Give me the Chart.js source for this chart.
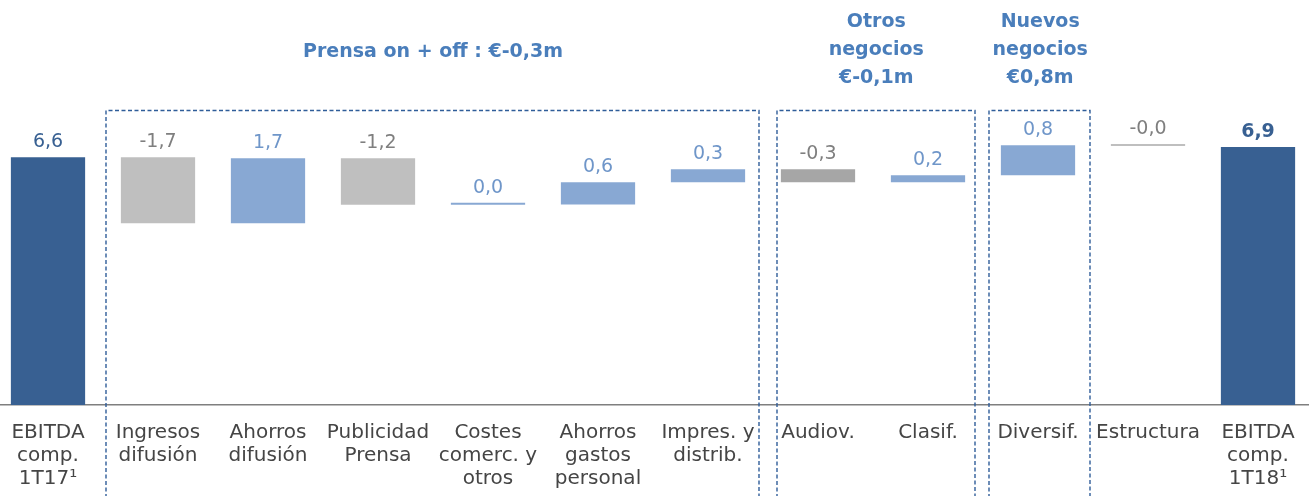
<!DOCTYPE html>
<html>
<head>
<meta charset="utf-8">
<script src="https://cdn.jsdelivr.net/npm/chart.js@4"></script>
<style>
  html, body { margin: 0; padding: 0; background: #fff; overflow: hidden; }
  #wrap { position: absolute; left: -7px; top: 0; width: 1320px; height: 496px; }
</style>
</head>
<body>
<div id="wrap"><canvas id="chartBridge"></canvas></div>
<script>
// EBITDA bridge 1T17 -> 1T18 (EUR m)
const categories = [
  ["EBITDA", "comp.", "1T17¹"],
  ["Ingresos", "difusión"],
  ["Ahorros", "difusión"],
  ["Publicidad", "Prensa"],
  ["Costes", "comerc. y", "otros"],
  ["Ahorros", "gastos", "personal"],
  ["Impres. y", "distrib."],
  ["Audiov."],
  ["Clasif."],
  ["Diversif."],
  ["Estructura"],
  ["EBITDA", "comp.", "1T18¹"],
];
const startValue = 6.61;
const endValue   = 6.88;
const deltas     = [-1.76, 1.73, -1.24, 0.01, 0.59, 0.35, -0.35, 0.19, 0.80, -0.02];
const valueLabels = ["6,6", "-1,7", "1,7", "-1,2", "0,0", "0,6", "0,3", "-0,3", "0,2", "0,8", "-0,0", "6,9"];
const groupTitles = [
  ["Prensa on + off : €-0,3m"],
  ["Otros", "negocios", "€-0,1m"],
  ["Nuevos", "negocios", "€0,8m"],
];

// Colours
const DARK   = "#386092";
const LIGHT  = "#88a8d3";
const GREY   = "#bfbfbf";
const GREY2  = "#a6a6a6";
const TXT    = "#454545";
const NEG    = "#7f7f7f";
const POS    = "#6f96c9";
const TITLE  = "#4a7ebb";
const FONT   = "'DejaVu Sans', sans-serif";

// floating ranges
const ranges = [[0, startValue]];
let level = startValue;
deltas.forEach(d => { ranges.push([level, level + d]); level += d; });
ranges.push([0, endValue]);

const barColors = ranges.map((r, i) => {
  if (i === 0 || i === ranges.length - 1) return DARK;
  if (i === 7) return GREY2;
  return deltas[i - 1] < 0 ? GREY : LIGHT;
});
const labelColors = ranges.map((r, i) => {
  if (i === 0 || i === ranges.length - 1) return DARK;
  return deltas[i - 1] < 0 ? NEG : POS;
});

// group boxes: category span, pixel insets, title centre (in categories) and line y's
const boxes = [
  { from: 1, to: 6, l: -52, r: 51, title: 0, tx: 3.5, ty: [52] },
  { from: 7, to: 8, l: -41, r: 47, title: 1, tx: 7.53, ty: [22, 50, 78] },
  { from: 9, to: 9, l: -49, r: 52, title: 2, tx: 9.02, ty: [22, 50, 78] },
];

const overlay = {
  id: "overlay",
  afterDatasetsDraw(chart) {
    const { ctx } = chart;
    const meta = chart.getDatasetMeta(0);
    ctx.save();
    ctx.textAlign = "center";
    ctx.textBaseline = "alphabetic";
    meta.data.forEach((el, i) => {
      const top = Math.min(el.y, el.base);
      const last = i === meta.data.length - 1;
      ctx.font = (last ? "bold " : "") + "19px " + FONT;
      ctx.fillStyle = labelColors[i];
      ctx.fillText(valueLabels[i], el.x, top - 10);
    });
    ctx.restore();
  },
  afterDraw(chart) {
    const { ctx } = chart;
    const x = chart.scales.x;
    ctx.save();
    ctx.strokeStyle = "#2f5d99";
    ctx.lineWidth = 1.4;
    ctx.setLineDash([4, 2.5]);
    boxes.forEach(b => {
      const left = x.getPixelForValue(b.from) + b.l;
      const right = x.getPixelForValue(b.to) + b.r;
      ctx.beginPath();
      ctx.moveTo(left, chart.height + 2);
      ctx.lineTo(left, 110.5);
      ctx.lineTo(right, 110.5);
      ctx.lineTo(right, chart.height + 2);
      ctx.stroke();
    });
    ctx.setLineDash([]);
    ctx.fillStyle = TITLE;
    ctx.font = "bold 19px " + FONT;
    ctx.textAlign = "center";
    ctx.textBaseline = "middle";
    boxes.forEach(b => {
      const cx = x.getPixelForValue(0) + (x.getPixelForValue(1) - x.getPixelForValue(0)) * b.tx;
      groupTitles[b.title].forEach((line, k) => ctx.fillText(line, cx, b.ty[k]));
    });
    ctx.restore();
  }
};

new Chart(document.getElementById("chartBridge"), {
  type: "bar",
  data: {
    labels: categories,
    datasets: [{
      data: ranges,
      backgroundColor: barColors,
      borderWidth: 0,
      barPercentage: 1,
      categoryPercentage: 0.675,
      minBarLength: 2,
    }]
  },
  options: {
    responsive: true,
    maintainAspectRatio: false,
    animation: false,
    layout: { padding: { left: 0, right: 0, top: 30, bottom: 0 } },
    plugins: { legend: { display: false }, tooltip: { enabled: false } },
    scales: {
      x: {
        grid: { display: false, drawTicks: false },
        border: { display: true, color: "#7f7f7f", width: 1.5 },
        ticks: {
          color: TXT, padding: 16, maxRotation: 0, autoSkip: false,
          font: { family: FONT, size: 20, lineHeight: 1.15 }
        },
        afterFit: s => { s.height = 91; }
      },
      y: { display: false, min: 0, max: 10 }
    }
  },
  plugins: [overlay]
});
</script>
</body>
</html>
